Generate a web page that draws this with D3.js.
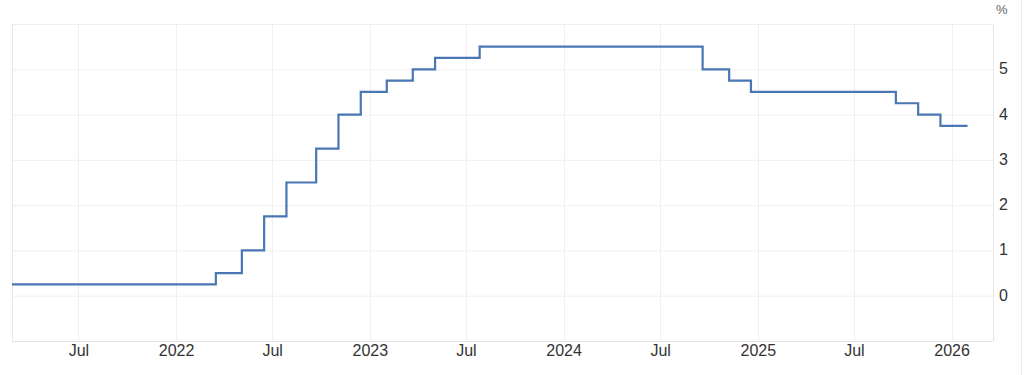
<!DOCTYPE html>
<html>
<head>
<meta charset="utf-8">
<script src="https://cdn.jsdelivr.net/npm/d3@7"></script>
<style>
  body { margin: 0; background: #fff; }
  text { font-family: "Liberation Sans", Arial, Helvetica, sans-serif; }
</style>
</head>
<body>
<div id="chart"></div>
<script>
// rate changes (step after each date)
var changeDates = ["2021-02-26", "2022-03-17", "2022-05-05", "2022-06-16", "2022-07-28",
  "2022-09-22", "2022-11-03", "2022-12-15", "2023-02-02", "2023-03-23", "2023-05-04",
  "2023-07-27", "2024-09-19", "2024-11-08", "2024-12-19", "2025-09-18", "2025-10-30",
  "2025-12-11"];
var rates = [0.25, 0.5, 1, 1.75, 2.5, 3.25, 4, 4.5, 4.75, 5, 5.25, 5.5, 5, 4.75, 4.5, 4.25, 4, 3.75];
var lastDate = "2026-01-31";

var xTickDates = ["2021-07-01", "2022-01-01", "2022-07-01", "2023-01-01", "2023-07-01",
  "2024-01-01", "2024-07-01", "2025-01-01", "2025-07-01", "2026-01-01"];
var xTickLabels = ["Jul", "2022", "Jul", "2023", "Jul", "2024", "Jul", "2025", "Jul", "2026"];
var yTicks = [0, 1, 2, 3, 4, 5];
var yGrid = [-1, 0, 1, 2, 3, 4, 5, 6];

var width = 1024, height = 375;
var margin = { top: 24, right: 31, bottom: 34, left: 12 };
var parse = d3.timeParse("%Y-%m-%d");

var data = changeDates.map(function (d, i) { return { date: parse(d), value: rates[i] }; });
data.push({ date: parse(lastDate), value: rates[rates.length - 1] });

var svg = d3.select("#chart").append("svg")
  .attr("width", width)
  .attr("height", height);

var x = d3.scaleTime()
  .domain([parse("2021-02-26"), parse("2026-03-20")])
  .range([margin.left, width - margin.right]);
var y = d3.scaleLinear()
  .domain([-1, 6])
  .range([height - margin.bottom, margin.top]);

// grid
svg.append("g").selectAll("line").data(yGrid).enter().append("line")
  .attr("x1", margin.left).attr("x2", width - margin.right)
  .attr("y1", function (d) { return y(d) + 0.5; })
  .attr("y2", function (d) { return y(d) + 0.5; })
  .attr("stroke", function (d) { return d === -1 ? "#e2e2e2" : "#efefef"; })
  .attr("stroke-width", 1);

svg.append("g").selectAll("line").data(xTickDates).enter().append("line")
  .attr("x1", function (d) { return Math.round(x(parse(d))) + 0.5; })
  .attr("x2", function (d) { return Math.round(x(parse(d))) + 0.5; })
  .attr("y1", margin.top).attr("y2", height - margin.bottom)
  .attr("stroke", "#efefef");

// frame left/right
[margin.left, width - margin.right].forEach(function (px) {
  svg.append("line")
    .attr("x1", px + 0.5).attr("x2", px + 0.5)
    .attr("y1", margin.top).attr("y2", height - margin.bottom)
    .attr("stroke", "#e6e6e6");
});

// page edge on the far right
svg.append("line")
  .attr("x1", 1021.5).attr("x2", 1021.5)
  .attr("y1", 0).attr("y2", height)
  .attr("stroke", "#ececec");

// x axis labels
var xAxis = d3.axisBottom(x)
  .tickValues(xTickDates.map(parse))
  .tickFormat(function (d, i) { return xTickLabels[i]; })
  .tickSize(0).tickPadding(4);
svg.append("g")
  .attr("transform", "translate(0," + (height - margin.bottom) + ")")
  .call(xAxis)
  .call(function (g) { g.select(".domain").remove(); })
  .selectAll("text")
  .attr("font-size", "16px")
  .attr("fill", "#333");

// y axis labels
var yAxis = d3.axisRight(y)
  .tickValues(yTicks)
  .tickFormat(d3.format("d"))
  .tickSize(0).tickPadding(6);
svg.append("g")
  .attr("transform", "translate(" + (width - margin.right) + ",0)")
  .call(yAxis)
  .call(function (g) { g.select(".domain").remove(); })
  .selectAll("text")
  .attr("font-size", "16px")
  .attr("dy", "0.28em")
  .attr("fill", "#333");

svg.append("text")
  .attr("x", 996).attr("y", 14)
  .attr("font-size", "13px")
  .attr("fill", "#666")
  .text("%");

// step line
var line = d3.line()
  .x(function (d) { return x(d.date); })
  .y(function (d) { return y(d.value); })
  .curve(d3.curveStepAfter);

svg.append("path")
  .datum(data)
  .attr("fill", "none")
  .attr("stroke", "#4a76b4")
  .attr("stroke-width", 2.2)
  .attr("d", line);
</script>
</body>
</html>
